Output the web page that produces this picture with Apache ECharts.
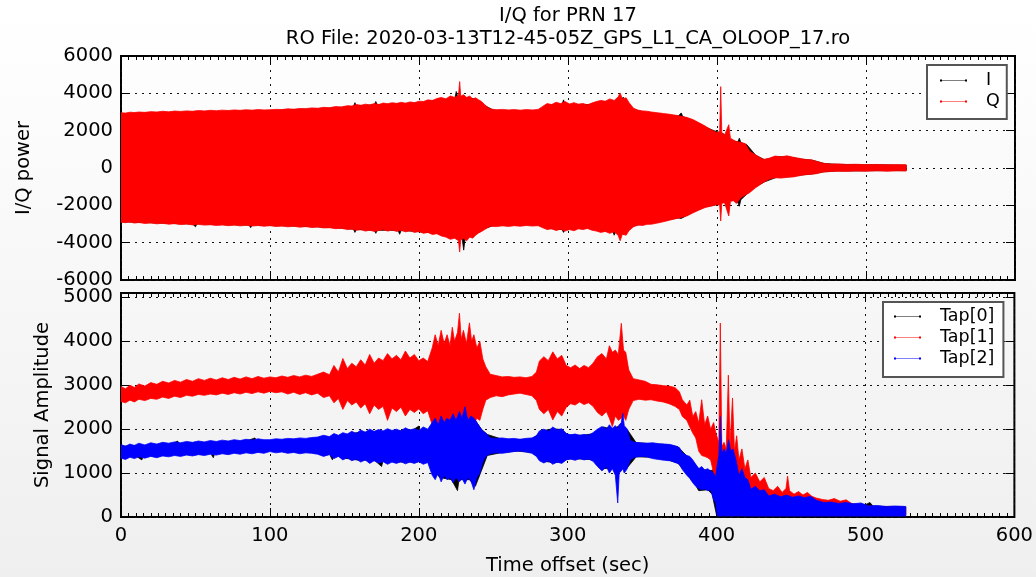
<!DOCTYPE html>
<html>
<head>
<meta charset="utf-8">
<script src="https://cdn.jsdelivr.net/npm/echarts@6/dist/echarts.min.js"></script>
<style>
html,body{margin:0;padding:0;}
body{width:1036px;height:577px;background:linear-gradient(#ffffff,#efefef);overflow:hidden;}
#c{width:1036px;height:577px;}
</style>
</head>
<body>
<div id="c"></div>
<script>
// ---------- data ----------
const titleLines = ['I/Q for PRN 17', 'RO File: 2020-03-13T12-45-05Z_GPS_L1_CA_OLOOP_17.ro'];
const xTicks = [0, 100, 200, 300, 400, 500, 600];
const iqTicks = [-6000, -4000, -2000, 0, 2000, 4000, 6000];
const ampTicks = [0, 1000, 2000, 3000, 4000, 5000];
const iqNames = ['I', 'Q'];
const tapNames = ['Tap[0]', 'Tap[1]', 'Tap[2]'];

// envelopes of the dense samples: [time s, min, max]
const iEnv = [[0,-2880,2900],[8,-2900,2930],[16,-2920,2940],[24,-2950,2960],[32,-2960,2970],[40,-2990,2990],[48,-3000,3000],[50,-3150,3000],[51,-2990,3000],[56,-3000,3020],[64,-3030,3020],[72,-3040,3040],[80,-3050,3050],[86,-3060,3060],[87,-3200,3060],[88,-3060,3060],[96,-3070,3070],[104,-3090,3090],[112,-3100,3120],[120,-3120,3140],[128,-3140,3160],[136,-3170,3190],[144,-3200,3230],[152,-3250,3280],[156,-3280,3300],[157,-3450,3500],[158,-3290,3320],[164,-3320,3360],[170,-3340,3390],[171,-3500,3560],[172,-3340,3390],[180,-3330,3420],[186,-3350,3440],[187,-3550,3450],[188,-3350,3450],[196,-3390,3480],[204,-3440,3520],[212,-3500,3650],[220,-3700,3700],[224,-3720,3720],[225,-3750,4100],[226,-3800,3800],[229,-3800,3800],[230,-4400,3800],[231,-3750,3780],[238,-3550,3700],[244,-3250,3350],[250,-3080,3100],[260,-3060,3060],[270,-3050,3060],[280,-3040,3080],[288,-3250,3380],[296,-3300,3400],[297,-3450,3650],[298,-3300,3420],[306,-3220,3380],[314,-3200,3400],[322,-3380,3540],[330,-3380,3560],[331,-3600,3560],[332,-3400,3560],[336,-3450,3600],[337,-3550,3800],[338,-3500,3620],[344,-3100,3150],[350,-3000,3000],[360,-2900,2900],[368,-2760,2830],[374,-2680,2780],[376,-2700,2950],[377,-2660,2760],[384,-2360,2550],[392,-2080,2200],[398,-2000,2000],[404,-1850,1850],[410,-1700,1450],[414,-1850,1400],[415,-2050,1600],[416,-1700,1360],[420,-1400,1250],[426,-1000,680],[432,-740,440],[440,-500,600],[448,-470,600],[456,-380,480],[464,-320,420],[472,-200,240],[480,-160,200],[490,-160,180],[500,-150,170],[510,-140,170],[520,-140,160],[527,-140,150]];

const qEnv = [[0,-2900,2960],[3,-2930,2940],[6,-2890,2990],[9,-2950,2970],[12,-2920,3000],[16,-2970,2980],[20,-2940,3020],[24,-2990,3000],[28,-2960,3040],[32,-3010,3010],[36,-2980,3050],[40,-3030,3030],[44,-3000,3060],[48,-3050,3040],[52,-3020,3080],[56,-3060,3060],[60,-3040,3090],[64,-3080,3070],[68,-3050,3100],[72,-3090,3080],[76,-3060,3110],[80,-3100,3090],[84,-3070,3120],[88,-3110,3100],[92,-3080,3130],[96,-3120,3110],[100,-3090,3120],[104,-3130,3140],[108,-3110,3130],[112,-3150,3170],[116,-3120,3150],[120,-3170,3190],[124,-3140,3180],[128,-3190,3220],[132,-3160,3200],[136,-3210,3250],[140,-3200,3230],[144,-3250,3290],[148,-3230,3270],[152,-3300,3340],[155,-3270,3320],[158,-3340,3400],[161,-3300,3360],[164,-3380,3420],[167,-3330,3380],[170,-3400,3450],[173,-3350,3400],[176,-3300,3480],[179,-3380,3440],[182,-3320,3500],[185,-3400,3460],[188,-3340,3520],[191,-3420,3470],[194,-3360,3540],[197,-3450,3500],[200,-3400,3580],[203,-3500,3560],[206,-3450,3650],[209,-3560,3620],[212,-3520,3720],[215,-3640,3780],[218,-3700,3700],[221,-3820,3860],[224,-3760,3780],[226.5,-3900,3900],[227.3,-4500,4630],[228,-3850,3850],[230,-3780,3920],[232,-3900,3780],[234,-3700,3860],[236,-3760,3700],[238,-3600,3760],[240,-3480,3650],[242,-3400,3560],[244,-3300,3400],[246,-3200,3260],[248,-3120,3160],[252,-3140,3120],[256,-3100,3140],[260,-3130,3110],[264,-3090,3130],[268,-3120,3100],[272,-3080,3130],[276,-3110,3110],[280,-3090,3140],[283,-3200,3300],[286,-3300,3450],[289,-3250,3400],[292,-3350,3520],[295,-3280,3450],[298,-3380,3560],[301,-3300,3430],[304,-3360,3500],[307,-3260,3420],[310,-3300,3460],[313,-3240,3380],[316,-3330,3480],[319,-3380,3560],[322,-3450,3620],[325,-3400,3580],[328,-3500,3700],[331,-3420,3620],[333.6,-3600,3800],[335,-3900,4020],[336.5,-3550,3700],[339,-3600,3760],[341,-3350,3500],[344,-3150,3200],[347,-3060,3100],[350,-3080,3060],[353,-3020,3040],[356,-3010,3000],[360,-2950,2960],[364,-2880,2920],[368,-2800,2880],[372,-2720,2830],[376,-2650,2770],[380,-2560,2700],[384,-2400,2590],[388,-2250,2420],[392,-2120,2250],[396,-2040,2050],[400,-1960,1890],[401.8,-2000,1950],[402.5,-2840,4360],[403.2,-1900,1900],[405,-1850,1750],[407.9,-2570,2320],[409,-1800,1600],[411,-1750,1500],[413,-1900,1420],[416,-1600,1380],[419,-1450,1300],[422,-1310,900],[426,-1050,700],[431,-780,460],[435,-600,520],[439,-520,640],[443,-540,600],[447,-500,650],[451,-480,580],[455,-420,520],[459,-360,460],[463,-340,440],[467,-300,350],[471,-220,260],[476,-190,210],[481,-170,220],[487,-180,190],[493,-160,200],[500,-170,180],[507,-150,190],[514,-170,170],[521,-150,180],[527,-160,170]];

const tap0Env = [[0,1380,1610],[10,1390,1630],[14,1300,1620],[15,1390,1630],[24,1400,1640],[34,1420,1660],[38,1420,1730],[39,1420,1670],[48,1430,1680],[60,1460,1700],[62,1350,1700],[63,1460,1700],[72,1460,1700],[84,1490,1730],[90,1490,1800],[91,1490,1730],[100,1510,1730],[110,1490,1750],[118,1480,1750],[126,1480,1760],[134,1440,1790],[140,1430,1800],[142,1300,1800],[143,1420,1800],[150,1340,1870],[160,1290,1930],[170,1300,1930],[175,1150,1930],[176,1280,1940],[186,1250,1960],[196,1250,1980],[200,1260,2070],[201,1260,1950],[206,1250,1980],[214,900,2150],[222,850,2200],[226,600,2250],[227,850,2250],[234,850,2300],[238,700,2200],[242,1050,2000],[246,1400,1880],[256,1470,1770],[266,1500,1760],[276,1470,1780],[284,1270,1970],[290,1240,2010],[296,1250,1990],[300,1320,1870],[310,1320,1860],[318,1300,1900],[324,1100,2050],[330,1120,2000],[336,1100,2100],[340,1120,1990],[346,1370,1690],[356,1360,1670],[366,1310,1650],[374,1230,1600],[380,980,1390],[386,720,1180],[388,600,1100],[394,620,1060],[397,520,1060],[400,40,1150],[406,40,1500],[412,40,1450],[418,40,900],[424,40,650],[432,40,600],[440,40,500],[450,40,440],[460,40,430],[470,40,350],[480,40,310],[490,40,300],[500,40,280],[503,40,330],[505,40,250],[512,40,240],[520,40,240],[527,40,230]];

const tap1Env = [[0,2630,2970],[3,2600,2920],[6,2660,3000],[9,2620,2950],[12,2680,3030],[16,2650,2980],[20,2700,3060],[24,2680,3020],[28,2730,3090],[32,2700,3050],[36,2750,3110],[40,2720,3070],[44,2770,3130],[48,2750,3090],[52,2790,3150],[56,2770,3110],[60,2800,3160],[64,2780,3120],[68,2820,3170],[72,2790,3130],[76,2830,3180],[80,2800,3140],[84,2840,3190],[88,2810,3150],[92,2850,3200],[96,2820,3160],[100,2860,3190],[104,2830,3170],[108,2850,3210],[112,2800,3180],[116,2840,3220],[120,2790,3190],[124,2830,3230],[128,2780,3200],[132,2820,3250],[136,2720,3300],[140,2760,3240],[143,2600,3450],[146,2700,3300],[149,2450,3610],[152,2650,3380],[155,2550,3500],[158,2620,3420],[161,2480,3580],[164,2580,3460],[167,2350,3700],[170,2550,3500],[173,2450,3620],[176,2520,3560],[179,2200,3720],[182,2480,3600],[185,2400,3680],[188,2500,3580],[191,2300,3780],[194,2450,3620],[197,2380,3700],[200,2460,3560],[203,2350,3620],[206,2420,3540],[209,2100,3850],[211,2000,4150],[213,2150,3900],[215,1980,4250],[217,2100,3950],[219,2000,4150],[221,2080,3900],[222.5,1950,4320],[224,2100,4000],[226,2000,4200],[227.3,1950,4640],[228.5,2100,4050],[230,2000,4250],[232,2150,3950],[234,2050,4420],[235.5,2150,4000],[237,2100,4150],[239,2250,3850],[241,2200,4000],[243,2450,3600],[245,2660,3420],[248,2720,3250],[252,2760,3220],[256,2740,3190],[260,2780,3200],[264,2800,3180],[268,2820,3190],[272,2790,3170],[276,2760,3200],[279,2650,3300],[281,2450,3550],[284,2350,3650],[287,2450,3560],[290,2210,3760],[293,2400,3600],[296,2300,3680],[299,2500,3450],[302,2580,3400],[305,2550,3460],[308,2620,3380],[311,2560,3450],[314,2600,3400],[317,2520,3500],[320,2380,3650],[323,2300,3720],[326,2400,3600],[328,2250,3900],[330,2060,3750],[332,2300,3800],[334,2200,3700],[336,2250,4410],[337.5,2300,3800],[339,2200,3750],[341,2450,3350],[344,2650,3150],[348,2680,3120],[352,2660,3090],[356,2670,3020],[360,2640,3010],[364,2620,2990],[368,2580,2980],[372,2520,2950],[375,2450,2850],[377,2290,2670],[380,2200,2550],[382,2050,2660],[384,1910,2290],[386,1800,2400],[388,1500,2140],[390,1400,2670],[392,1380,2100],[394,1350,2300],[396,1300,2000],[398,1000,2150],[399.6,600,1900],[401.5,150,1700],[402.5,150,4415],[403.5,150,1600],[405,120,1700],[406.5,120,1550],[407.9,120,3230],[409,120,1650],[410.7,100,2710],[412,100,1500],[413.5,100,1850],[415,90,1300],[417,90,1550],[419,90,1100],[421,80,1300],[423,80,900],[426,70,1000],[429,70,800],[432,60,900],[435,60,650],[438,60,600],[441,60,700],[444,60,560],[446.6,60,650],[447.7,60,930],[449,60,600],[452,60,520],[455,60,580],[458,60,500],[461,60,560],[464,60,470],[467,60,430],[471,60,400],[475,60,380],[479,60,420],[483,60,360],[487,60,390],[491,50,300],[496,50,270],[501,50,250],[506,50,240],[512,50,230],[518,50,240],[523,50,220],[527,50,230]];

const tap2Env = [[0,1340,1650],[3,1310,1610],[6,1360,1660],[9,1330,1630],[12,1370,1680],[16,1340,1640],[20,1380,1690],[24,1350,1660],[28,1390,1700],[32,1370,1680],[36,1400,1710],[40,1380,1690],[44,1410,1720],[48,1390,1700],[52,1420,1730],[56,1400,1710],[60,1430,1740],[64,1410,1720],[68,1440,1750],[72,1420,1730],[76,1450,1760],[80,1430,1740],[84,1460,1770],[88,1440,1750],[92,1470,1780],[96,1450,1760],[100,1490,1760],[104,1460,1780],[108,1480,1770],[112,1450,1790],[116,1470,1780],[120,1440,1800],[124,1460,1790],[128,1450,1810],[132,1430,1820],[136,1380,1860],[140,1420,1830],[143,1330,1900],[146,1380,1860],[149,1300,1920],[152,1350,1890],[155,1280,1950],[158,1320,1900],[161,1250,1980],[164,1300,1930],[167,1220,2000],[170,1280,1950],[173,1230,1990],[176,1260,1960],[179,1200,2010],[182,1250,1970],[185,1220,2000],[188,1260,1960],[191,1210,2030],[194,1250,1980],[197,1220,2010],[200,1260,1970],[203,1200,2050],[206,1240,2000],[209,950,2150],[211,850,2250],[213,1000,2100],[215,800,2300],[217,950,2150],[219,850,2250],[221,900,2200],[223,780,2350],[225,900,2200],[227.3,800,2400],[229,880,2250],[231,750,2510],[233,900,2200],[235,820,2300],[237,620,2250],[239,900,2150],[241,1000,2050],[243,1250,1950],[245,1380,1910],[248,1440,1800],[252,1460,1790],[256,1450,1800],[260,1470,1780],[264,1490,1790],[268,1500,1770],[272,1480,1790],[276,1450,1800],[279,1380,1850],[281,1280,1960],[284,1230,2000],[287,1280,1950],[290,1200,2050],[293,1250,1980],[296,1220,2010],[299,1300,1900],[302,1320,1870],[305,1290,1890],[308,1330,1860],[311,1300,1880],[314,1320,1860],[317,1270,1920],[320,1150,2000],[323,1050,2060],[326,1150,2000],[328,1000,2100],[330,1100,2020],[332,950,2080],[333.6,320,2000],[334.6,1000,2100],[336,1050,2150],[337,1100,2360],[338,1000,2080],[340,1100,2000],[342,1300,1750],[345,1360,1700],[349,1380,1690],[353,1370,1680],[357,1330,1690],[361,1310,1670],[365,1290,1660],[369,1280,1650],[373,1230,1610],[375,1200,1580],[377,1080,1460],[380,950,1400],[382,880,1380],[384,780,1300],[386,700,1200],[388,650,1100],[390,620,1150],[392,640,1070],[394,600,1100],[396,620,1050],[398,400,1000],[399.3,330,900],[400.5,30,1200],[401.5,20,1400],[402.5,20,2290],[403.5,20,1450],[405,30,1550],[406.5,20,1450],[408,30,1760],[409.5,20,1500],[411,20,1550],[413,30,1300],[415,20,950],[417,30,1100],[419,20,900],[421,20,850],[423,20,630],[426,20,700],[429,20,600],[432,20,620],[435,20,480],[439,20,520],[443,20,460],[447,20,500],[451,20,450],[455,20,480],[459,20,440],[463,20,470],[467,20,380],[472,20,330],[477,20,340],[482,20,310],[487,20,330],[492,20,300],[497,20,320],[502,20,250],[508,20,260],[514,20,240],[520,20,250],[527,20,240]];

// ---------- chart ----------
const FONT = 'DejaVu Sans';
const chart = echarts.init(document.getElementById('c'), null, {renderer: 'canvas'});
const handleIcon = 'path://M0,0h3v3h-3z M3,1h34v1h-34z M37,0h3v3h-3z';

function bandSeries(name, band, color, gi) {
  return {
    type: 'custom', name: name, xAxisIndex: gi * 2, yAxisIndex: gi * 2,
    clip: true, silent: true, animation: false,
    itemStyle: {color: color},
    encode: {x: 0, y: [1, 2]},
    data: band,
    renderItem: function (params, api) {
      if (params.dataIndex !== 0) return null;
      const up = band.map(d => api.coord([d[0], d[2]]));
      const lo = band.map(d => api.coord([d[0], d[1]])).reverse();
      return {type: 'polygon', shape: {points: up.concat(lo)},
              style: {fill: color, stroke: color, lineWidth: 0.8}};
    }
  };
}

const plain = v => String(v);
const dotted = {show: true, lineStyle: {color: '#111', type: [2, 5], width: 1}};
function xAx(gi, pos, labels) {
  return {
    type: 'value', gridIndex: gi, position: pos, min: xTicks[0], max: xTicks[xTicks.length - 1], interval: 100,
    axisLine: {show: false, onZero: false},
    axisTick: {show: true, inside: true, length: 9, lineStyle: {color: '#000', width: 1}},
    minorTick: {show: true, splitNumber: 20, length: 4, lineStyle: {color: '#000', width: 1}},
    axisLabel: {show: labels, color: '#000', fontFamily: FONT, fontSize: 19.5, margin: 9, formatter: plain},
    splitLine: pos === 'bottom' ? dotted : {show: false},
    minorSplitLine: {show: false},
    name: labels ? 'Time offset (sec)' : '', nameLocation: 'middle', nameGap: 39,
    nameTextStyle: {color: '#000', fontFamily: FONT, fontSize: 19.5}
  };
}
function yAx(gi, pos, ticks, max, name, gap) {
  const left = pos === 'left';
  return {
    type: 'value', gridIndex: gi, position: pos, min: ticks[0], max: max, interval: ticks[1] - ticks[0],
    axisLine: {show: false, onZero: false},
    axisTick: {show: true, inside: true, length: 9, lineStyle: {color: '#000', width: 1}},
    axisLabel: {show: left, color: '#000', fontFamily: FONT, fontSize: 19.5, margin: 8, formatter: plain,
                showMaxLabel: max === ticks[ticks.length - 1]},
    splitLine: left ? dotted : {show: false},
    name: left ? name : '', nameLocation: 'middle', nameGap: gap,
    nameTextStyle: {color: '#000', fontFamily: FONT, fontSize: 19.5}
  };
}
const legendCommon = {
  orient: 'vertical', backgroundColor: '#ffffff', borderColor: '#555', borderWidth: 2,
  itemWidth: 27, itemHeight: 3, itemGap: 2, icon: handleIcon, selectedMode: false,
  textStyle: {color: '#000', fontFamily: FONT, fontSize: 17.5, lineHeight: 19, padding: [0, 0, 0, 14]}
};

chart.setOption({
  animation: false,
  backgroundColor: 'transparent',
  title: {text: titleLines.join('\n'), left: 568, top: 4, padding: 0, textAlign: 'center',
          textStyle: {color: '#000', fontFamily: FONT, fontSize: 19.5, fontWeight: 'normal', lineHeight: 23}},
  grid: [
    {left: 121, top: 56, width: 894, height: 224, show: true, borderColor: '#000', borderWidth: 2, backgroundColor: 'transparent'},
    {left: 121, top: 293, width: 894, height: 224, show: true, borderColor: '#000', borderWidth: 2, backgroundColor: 'transparent'}
  ],
  xAxis: [xAx(0, 'bottom', false), xAx(0, 'top', false), xAx(1, 'bottom', true), xAx(1, 'top', false)],
  yAxis: [
    yAx(0, 'left', iqTicks, iqTicks[iqTicks.length - 1], 'I/Q power', 87),
    yAx(0, 'right', iqTicks, iqTicks[iqTicks.length - 1], '', 0),
    yAx(1, 'left', ampTicks, 5100, 'Signal Amplitude', 66),
    yAx(1, 'right', ampTicks, 5100, '', 0)
  ],
  legend: [
    Object.assign({}, legendCommon, {data: iqNames, left: 927, top: 65, padding: [6, 7, 8, 13]}),
    Object.assign({}, legendCommon, {data: tapNames, left: 883, top: 302, padding: [5, 9, 9, 11]})
  ],
  series: [
    bandSeries(iqNames[0], iEnv, '#000000', 0),
    bandSeries(iqNames[1], qEnv, '#ff0000', 0),
    bandSeries(tapNames[0], tap0Env, '#000000', 1),
    bandSeries(tapNames[1], tap1Env, '#ff0000', 1),
    bandSeries(tapNames[2], tap2Env, '#0000ff', 1)
  ]
});
</script>
</body>
</html>
